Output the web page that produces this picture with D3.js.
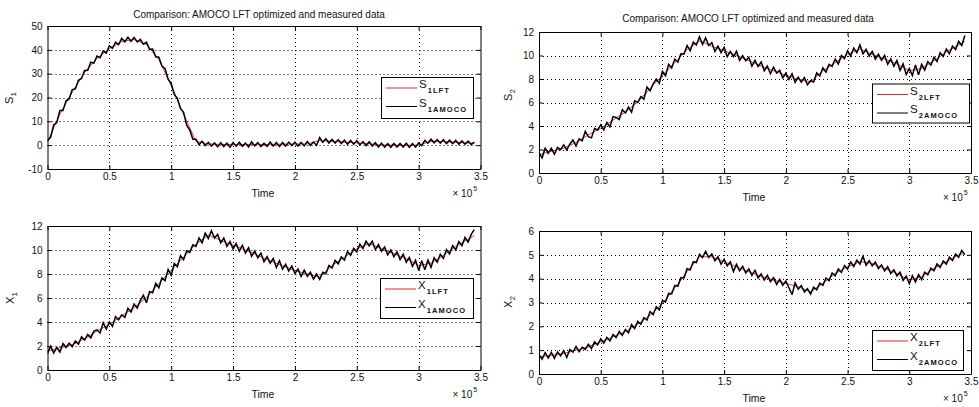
<!DOCTYPE html>
<html><head><meta charset="utf-8">
<script src="https://cdn.jsdelivr.net/npm/d3@7"></script>
<style>
body{margin:0;background:#fff;}
svg{display:block;font-family:"Liberation Sans",Arial,Helvetica,sans-serif;}
</style></head><body>
<svg id="chart" width="979" height="407"></svg>
<script>
// ---------- DATA (time in units of 1e5) ----------
const titleText = "Comparison: AMOCO LFT optimized and measured data";
const xTicks = [0,0.5,1,1.5,2,2.5,3,3.5];
const s1Ticks = [-10,0,10,20,30,40,50];
const s2Ticks = [0,2,4,6,8,10,12];
const x1Ticks = [0,2,4,6,8,10,12];
const x2Ticks = [0,1,2,3,4,5,6];

const modelTime = [0,0.1,0.2,0.3,0.4,0.5,0.6,0.7,0.8,0.9,1,1.1,1.2,1.3,1.4,1.5,1.6,1.7,1.8,1.9,2,2.1,2.2,2.3,2.4,2.5,2.6,2.7,2.8,2.9,3,3.1,3.2,3.3,3.4,3.45];
const s1Model = [1.4,13,22.3,30.5,36.4,40.5,43.5,44.3,42.2,36,25,13,1.6,0.5,0.3,0.3,0.3,0.3,0.3,0.4,0.5,0.5,2,1.6,1.3,1,0.6,0,0,-0.1,0,1.6,1.5,1.2,0.9,0.8];
const s2Model = [1.57,1.85,2.1,2.6,3.25,3.8,4.5,5.2,6.05,7.2,8.3,9.4,10.5,11.25,10.8,10.4,10,9.55,9.1,8.7,8.3,8,7.75,8.7,9.4,10.1,10.55,10.1,9.7,9.28,8.7,8.9,9.55,10.3,10.9,11.2];
const x1Model = [1.57,1.85,2.1,2.6,3.25,3.8,4.5,5.2,6.05,7.2,8.3,9.4,10.5,11.25,10.8,10.4,10,9.55,9.1,8.7,8.3,8,7.75,8.7,9.4,10.1,10.55,10.1,9.7,9.28,8.7,8.9,9.55,10.3,10.9,11.2];
const x2Model = [0.72,0.79,0.86,1,1.14,1.35,1.56,1.77,2.09,2.47,2.96,3.6,4.3,4.92,4.92,4.71,4.5,4.29,4.1,3.94,3.8,3.66,3.45,3.8,4.22,4.5,4.71,4.64,4.43,4.22,3.94,4.08,4.43,4.71,5,5.06];

const measTime = [0,0.025,0.05,0.075,0.1,0.125,0.15,0.175,0.2,0.225,0.25,0.275,0.3,0.325,0.35,0.375,0.4,0.425,0.45,0.475,
0.5,0.525,0.55,0.575,0.6,0.625,0.65,0.675,0.7,0.725,0.75,0.775,0.8,0.825,0.85,0.875,0.9,0.925,0.95,0.975,
1,1.025,1.05,1.075,1.1,1.125,1.15,1.175,1.2,1.225,1.25,1.275,1.3,1.325,1.35,1.375,1.4,1.425,1.45,1.475,
1.5,1.525,1.55,1.575,1.6,1.625,1.65,1.675,1.7,1.725,1.75,1.775,1.8,1.825,1.85,1.875,1.9,1.925,1.95,1.975,
2,2.025,2.05,2.075,2.1,2.125,2.15,2.175,2.2,2.225,2.25,2.275,2.3,2.325,2.35,2.375,2.4,2.425,2.45,2.475,
2.5,2.525,2.55,2.575,2.6,2.625,2.65,2.675,2.7,2.725,2.75,2.775,2.8,2.825,2.85,2.875,2.9,2.925,2.95,2.975,
3,3.025,3.05,3.075,3.1,3.125,3.15,3.175,3.2,3.225,3.25,3.275,3.3,3.325,3.35,3.375,3.4,3.425,3.45];

const s1Meas = [1.9,3.3,8.5,9.5, 14.5,14.5,18.6,19.4, 23.3,23.6,27.2,28.0, 31.3,31.4,34.8,34.4, 37.4,36.7,39.5,38.6,
41.7,40.6,43.2,42.2, 44.8,43.4,45.3,43.6, 45.2,43.3,44.4,42.4, 43.2,40.2,40.3,37.1, 36.9,33.2,32.1,27.7,
25.8,21.3,19.6,15.3, 13.8,8.4,6.3,2.5, 2.5,0.2,1.7,-0.2, 1.2,-0.4,0.95,-0.7, 1.0,-0.6,0.8,-0.9,
1.1,-0.4,1.2,-0.5, 0.9,-0.7,1.4,-0.3, 1.1,-0.6,0.8,-0.5, 1.3,-0.4,1.1,-0.6, 1.1,-0.4,1.3,-0.2,
1.3,-0.4,1.2,-0.3, 1.5,-0.1,1.3,-0.1, 3.2,1.2,2.7,0.9, 2.4,0.9,2.35,0.7, 2.1,0.35,1.95,0.4,
1.9,0.1,1.5,-0.2, 1.4,-0.35,1.0,-0.75, 0.8,-0.8,0.6,-0.9, 0.7,-0.8,0.7,-0.8, 0.8,-0.9,0.65,-0.8,
0.9,-0.2,2.0,0.8, 2.5,1.0,2.35,0.85, 2.3,0.65,2.1,0.6, 2.0,0.35,1.8,0.4, 1.7,0.25,1.3];

const s2Meas = [1.72,1.29,2.11,1.68, 2.1,1.61,2.18,1.99, 2.4,1.97,2.45,2.82, 2.3,2.91,2.73,3.54, 3.1,2.99,3.78,3.66,
4.1,3.68,4.3,3.93, 4.8,4.73,4.55,5.38, 5.1,5.61,5.18,6.14, 6.0,6.49,6.28,7.31, 7.0,7.58,8.0,7.63,
8.65,8.28,9.25,8.93, 9.7,9.43,10.15,10.13, 10.85,10.4,11.15,10.9, 11.6,10.95,11.5,10.85, 11.1,10.35,10.8,10.25,
10.7,9.9,10.35,9.9, 10.35,9.59,9.98,9.56, 9.85,9.09,9.58,9.06, 9.45,8.7,9.1,8.45, 9.0,8.5,8.75,8.1,
8.5,7.97,8.45,7.72, 8.15,7.74,8.13,7.5, 7.85,7.75,8.52,8.26, 8.95,8.58,9.25,9.08, 9.7,9.28,10.0,9.73,
10.4,9.95,10.63,10.24, 10.9,10.14,10.53,9.95, 10.35,9.7,10.1,9.6, 10.0,9.25,9.7,9.09, 9.58,8.73,9.29,8.39,
8.9,8.3,9.2,8.35, 9.25,8.76,9.48,9.19, 9.85,9.49,10.23,9.91, 10.55,10.15,10.8,10.5, 11.2,10.85,11.7];

const x1Meas = [1.37,1.99,1.41,1.88, 1.5,2.21,1.88,2.24, 1.95,2.42,2.15,2.77, 2.5,2.96,2.68,3.24, 3.35,3.09,3.93,3.41,
4.0,3.63,4.45,4.18, 4.6,4.38,5.15,4.83, 5.5,5.16,5.78,6.24, 5.6,6.54,6.43,7.21, 6.85,7.68,7.45,8.38,
7.9,8.88,8.6,9.53, 9.2,9.93,9.8,10.43, 10.3,11.0,10.6,11.4, 10.95,11.6,11.0,11.3, 10.6,11.0,10.3,10.7,
10.1,10.55,9.9,10.4, 9.75,10.19,9.48,9.91, 9.35,9.74,9.03,9.46, 8.9,9.3,8.55,9.1, 8.4,8.8,8.25,8.65,
8.05,8.42,7.8,8.32, 7.8,8.14,7.58,8.0, 7.55,8.15,8.02,8.71, 8.5,9.13,8.85,9.43, 9.15,9.88,9.55,10.13,
9.85,10.5,10.13,10.74, 10.35,10.74,10.03,10.45, 9.9,10.25,9.6,10.0, 9.45,9.85,9.2,9.64, 8.98,9.38,8.64,9.14,
8.3,9.1,8.35,9.15, 8.55,9.36,8.98,9.64, 9.3,10.04,9.68,10.36, 10.0,10.7,10.35,11.05, 10.65,11.3,11.7];

const x2Meas = [0.82,0.62,0.9,0.67, 0.91,0.66,0.93,0.76, 0.98,0.7,1.03,0.92, 1.15,0.94,1.12,1.03, 1.24,1.07,1.35,1.22,
1.47,1.3,1.54,1.39, 1.66,1.53,1.79,1.62, 1.87,1.73,2.08,1.91, 2.21,2.09,2.36,2.26, 2.62,2.49,2.82,2.69,
3.08,3.02,3.38,3.36, 3.72,3.68,4.05,4.03, 4.42,4.36,4.71,4.67, 5.02,4.89,5.14,4.89, 5.04,4.75,4.92,4.61,
4.81,4.54,4.71,4.3, 4.6,4.33,4.52,4.24, 4.41,4.14,4.35,4.03, 4.2,3.94,4.14,3.88, 4.04,3.76,3.97,3.72,
3.9,3.62,3.33,3.82, 3.56,3.71,3.44,3.58, 3.35,3.64,3.53,3.81, 3.72,4.03,3.91,4.24, 4.12,4.41,4.26,4.55,
4.4,4.7,4.51,4.78, 4.61,4.94,4.56,4.76, 4.54,4.69,4.42,4.58, 4.33,4.5,4.21,4.37, 4.12,4.27,3.93,4.11,
3.79,4.13,3.86,4.17, 3.96,4.27,4.16,4.44, 4.33,4.62,4.47,4.74, 4.61,4.9,4.76,5.03, 4.9,5.18,5.01];

// ---------- LAYOUT ----------
const panels = [
  {model:s1Model, meas:s1Meas, yDomain:[-10,50], yTicks:s1Ticks, lab:'S', sub:'1', legSubs:['1LFT','1AMOCO'],
   box:{l:47.5,t:26,r:480.5,b:169}, title:{x:259,y:17.5}, ylab:{x:13,y:98}, leg:{l:381,t:77,w:92,h:41}},
  {model:s2Model, meas:s2Meas, yDomain:[0,12], yTicks:s2Ticks, lab:'S', sub:'2', legSubs:['2LFT','2AMOCO'],
   box:{l:539,t:32,r:971,b:173}, title:{x:748,y:22}, ylab:{x:512,y:95}, leg:{l:872,t:83.5,w:97,h:39}},
  {model:x1Model, meas:x1Meas, yDomain:[0,12], yTicks:x1Ticks, lab:'X', sub:'1', legSubs:['1LFT','1AMOCO'],
   box:{l:47.5,t:226,r:480.5,b:370}, title:null, ylab:{x:14,y:298}, leg:{l:380,t:278,w:93,h:40}},
  {model:x2Model, meas:x2Meas, yDomain:[0,6], yTicks:x2Ticks, lab:'X', sub:'2', legSubs:['2LFT','2AMOCO'],
   box:{l:539,t:231,r:971,b:374}, title:null, ylab:{x:512,y:302}, leg:{l:872,t:330,w:91,h:40}}
];

const svg = d3.select('#chart');
const defs = svg.append('defs');
const fmt = d => String(d);

panels.forEach((p, i) => {
  const B = p.box;
  const x = d3.scaleLinear().domain([0, 3.5]).range([B.l, B.r]);
  const y = d3.scaleLinear().domain(p.yDomain).range([B.b, B.t]);
  const g = svg.append('g');

  defs.append('clipPath').attr('id', 'clip' + i).append('rect')
    .attr('x', B.l).attr('y', B.t).attr('width', B.r - B.l).attr('height', B.b - B.t);

  // grid
  const grid = g.append('g').attr('stroke', '#000').attr('stroke-width', 1).attr('stroke-dasharray', '1,3');
  grid.selectAll('.gx').data(xTicks.slice(1, -1)).join('line')
    .attr('x1', d => Math.round(x(d)) + 0.5).attr('x2', d => Math.round(x(d)) + 0.5)
    .attr('y1', B.t).attr('y2', B.b);
  grid.selectAll('.gy').data(p.yTicks.slice(1, -1)).join('line')
    .attr('y1', d => Math.round(y(d)) + 0.5).attr('y2', d => Math.round(y(d)) + 0.5)
    .attr('x1', B.l).attr('x2', B.r);

  // data lines
  const line = d3.line().x(d => x(d[0])).y(d => y(d[1]));
  const dg = g.append('g').attr('clip-path', `url(#clip${i})`);
  dg.append('path').datum(modelTime.map((t, k) => [t, p.model[k]]))
    .attr('d', line).attr('fill', 'none').attr('stroke', '#e8262a').attr('stroke-width', 0.9);
  const n = Math.min(measTime.length, p.meas.length);
  dg.append('path').datum(measTime.slice(0, n).map((t, k) => [t, p.meas[k]]))
    .attr('d', line).attr('fill', 'none').attr('stroke', '#000').attr('stroke-width', 1.5)
    .attr('stroke-linejoin', 'miter').attr('stroke-miterlimit', 3);

  // axes
  const ax = g.append('g').attr('font-size', 10).attr('font-family', '"Liberation Sans",Arial,sans-serif');
  ax.append('g').attr('transform', `translate(0,${B.b})`)
    .call(d3.axisBottom(x).tickValues(xTicks).tickFormat(fmt).tickSizeInner(-4).tickSizeOuter(0).tickPadding(4));
  ax.append('g').attr('transform', `translate(0,${B.t})`)
    .call(d3.axisTop(x).tickValues(xTicks).tickFormat('').tickSizeInner(-4).tickSizeOuter(0));
  ax.append('g').attr('transform', `translate(${B.l},0)`)
    .call(d3.axisLeft(y).tickValues(p.yTicks).tickFormat(fmt).tickSizeInner(-4).tickSizeOuter(0).tickPadding(5));
  ax.append('g').attr('transform', `translate(${B.r},0)`)
    .call(d3.axisRight(y).tickValues(p.yTicks).tickFormat('').tickSizeInner(-4).tickSizeOuter(0));
  ax.selectAll('.domain').attr('stroke', '#000');
  ax.selectAll('.tick line').attr('stroke', '#000');
  ax.selectAll('.tick text').attr('fill', '#111');

  // labels
  g.append('text').attr('x', (B.l + B.r) / 2 - 1).attr('y', B.b + 28).attr('text-anchor', 'middle')
    .attr('font-size', 10.5).attr('fill', '#111').text('Time');
  const e = g.append('text').attr('x', B.r - 28).attr('y', B.b + 28).attr('font-size', 10).attr('fill', '#111');
  e.append('tspan').text('× 10');
  e.append('tspan').attr('dy', -6).attr('dx', 1).attr('font-size', 7).text('5');

  const yl = g.append('text').attr('transform', `translate(${p.ylab.x},${p.ylab.y}) rotate(-90)`)
    .attr('text-anchor', 'middle').attr('font-size', 11).attr('fill', '#111');
  yl.append('tspan').text(p.lab);
  yl.append('tspan').attr('dy', 3).attr('font-size', 8).text(p.sub);

  if (p.title) {
    g.append('text').attr('x', p.title.x).attr('y', p.title.y).attr('text-anchor', 'middle')
      .attr('font-size', 10).attr('fill', '#111').text(titleText);
  }

  // legend
  const L = p.leg;
  const lg = g.append('g');
  lg.append('rect').attr('x', L.l + 0.5).attr('y', L.t + 0.5).attr('width', L.w).attr('height', L.h)
    .attr('fill', '#fff').attr('stroke', '#000').attr('stroke-width', 1);
  const rows = [{c: '#e8262a', s: p.legSubs[0], dy: 11}, {c: '#000', s: p.legSubs[1], dy: 29.5}];
  rows.forEach(r => {
    const ly = L.t + r.dy;
    lg.append('line').attr('x1', L.l + 5).attr('x2', L.l + 36).attr('y1', ly).attr('y2', ly)
      .attr('stroke', r.c).attr('stroke-width', 1);
    const t = lg.append('text').attr('x', L.l + 38).attr('y', ly).attr('fill', '#111');
    t.append('tspan').attr('font-size', 11.5).text(p.lab);
    t.append('tspan').attr('dx', 1).attr('dy', 5).attr('font-size', 7.5).attr('letter-spacing', 1.1)
      .attr('font-weight', 'bold').text(r.s);
  });
});
</script>
</body></html>
